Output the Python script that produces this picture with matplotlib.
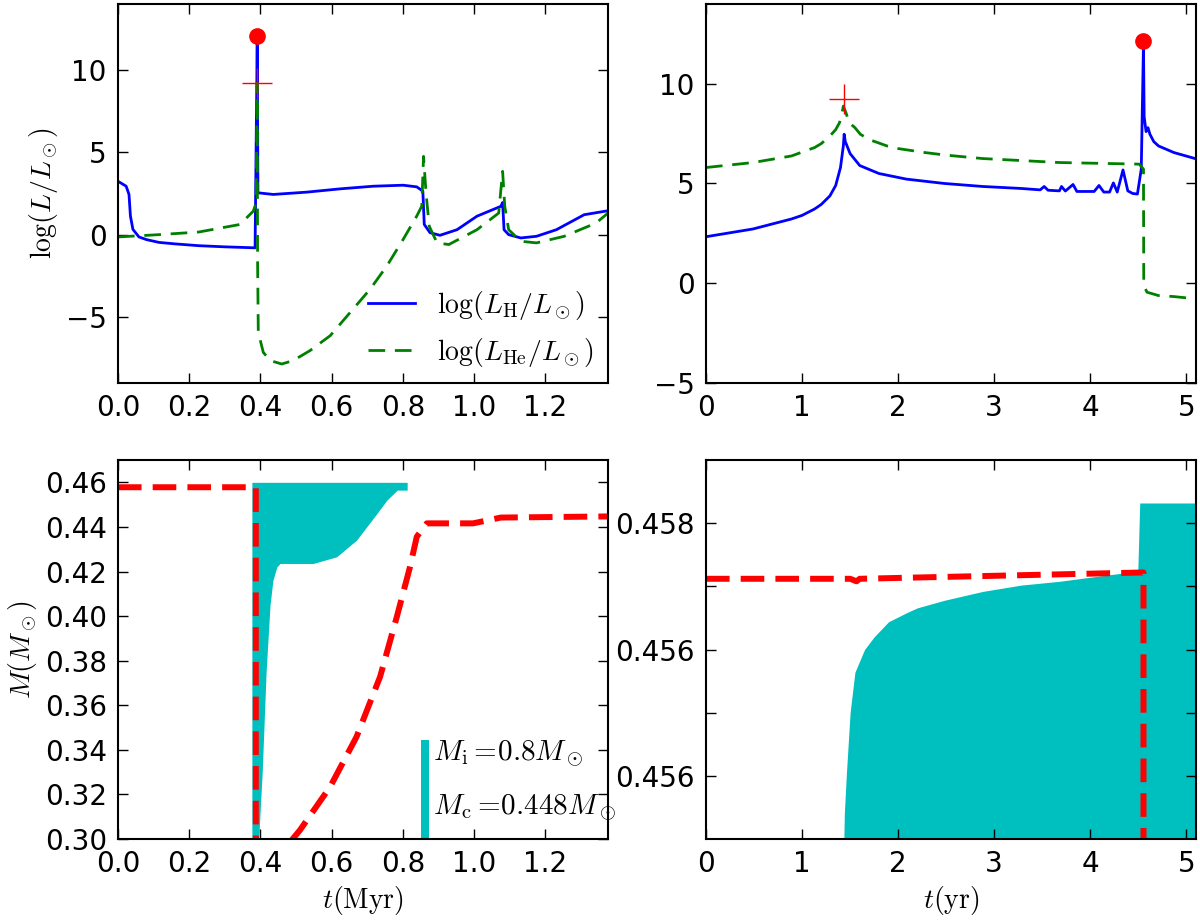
import matplotlib
matplotlib.use("Agg")
import matplotlib.pyplot as plt

plt.rcParams['mathtext.fontset'] = 'cm'
plt.rcParams['font.family'] = 'DejaVu Sans'
plt.rcParams['lines.scale_dashes'] = False

############## Data ##############

# top left: luminosities over the whole run (Myr)
tl_t_H = [0.0, 0.023, 0.031, 0.035, 0.042, 0.059, 0.08, 0.115, 0.16, 0.227, 0.30, 0.343,
          0.385, 0.391, 0.393, 0.436, 0.530, 0.624, 0.717, 0.801, 0.839, 0.856, 0.860,
          0.876, 0.904, 0.952, 1.008, 1.075, 1.080, 1.084, 1.097, 1.131, 1.175, 1.231,
          1.309, 1.384]
tl_L_H = [3.24, 2.94, 2.44, 1.13, 0.32, -0.14, -0.30, -0.47, -0.56, -0.67, -0.74, -0.77,
          -0.80, 11.8, 2.54, 2.44, 2.58, 2.78, 2.94, 3.0, 2.9, 2.64, 0.62,
          0.12, -0.04, 0.3, 1.12, 1.72, 1.95, 0.3, 0.0, -0.2, -0.1, 0.3,
          1.21, 1.48]
tl_t_He = [0.0, 0.115, 0.227, 0.343, 0.380, 0.388, 0.391, 0.392, 0.394, 0.408, 0.427,
           0.460, 0.492, 0.539, 0.596, 0.652, 0.708, 0.755, 0.801, 0.839, 0.853, 0.858,
           0.865, 0.874, 0.896, 0.929, 1.008, 1.069, 1.080, 1.086, 1.097, 1.131, 1.175,
           1.253, 1.342, 1.376, 1.384]
tl_L_He = [-0.14, 0.0, 0.16, 0.62, 1.43, 1.93, 9.2, -1.49, -5.93, -7.14, -7.64,
           -7.85, -7.64, -7.04, -6.13, -4.72, -3.31, -1.9, -0.28, 1.13, 1.73, 4.75,
           2.52, 0.51, -0.5, -0.6, 0.3, 1.31, 3.84, 1.72, 0.3, -0.4, -0.5,
           -0.1, 0.7, 1.31, 2.9]
tl_peak_H = (0.391, 12.08)
tl_peak_He = (0.391, 9.23)

# top right: zoom on the flash (yr)
tr_t_H = [0.0, 0.49, 0.89, 1.0, 1.13, 1.20, 1.29, 1.35, 1.40, 1.43, 1.438, 1.45, 1.50,
          1.60, 1.80, 2.084, 2.482, 2.880, 3.28, 3.478, 3.52, 3.56, 3.678, 3.70, 3.74,
          3.82, 3.86, 4.04, 4.09, 4.14, 4.20, 4.24, 4.28, 4.34, 4.39, 4.44, 4.49, 4.53,
          4.553, 4.56, 4.58, 4.60, 4.62, 4.66, 4.71, 4.87, 5.09]
tr_L_H = [2.33, 2.72, 3.22, 3.40, 3.72, 3.95, 4.38, 4.9, 5.8, 6.9, 7.47, 7.1, 6.5,
          5.9, 5.5, 5.22, 5.0, 4.85, 4.75, 4.68, 4.85, 4.66, 4.63, 4.85, 4.62,
          4.95, 4.6, 4.6, 4.9, 4.57, 4.57, 5.03, 4.57, 5.68, 4.63, 4.5, 4.47, 5.72,
          12.0, 8.35, 7.6, 7.8, 7.47, 7.1, 6.88, 6.55, 6.25]
tr_t_He = [0.0, 0.49, 0.89, 1.13, 1.20, 1.29, 1.35, 1.39, 1.41, 1.43, 1.46, 1.49,
           1.55, 1.606, 1.70, 1.885, 2.0, 2.28, 2.5, 2.88, 3.68, 4.51, 4.553, 4.556,
           4.59, 4.71, 4.87, 5.09]
tr_L_He = [5.8, 6.05, 6.38, 6.8, 7.0, 7.38, 7.7, 8.05, 8.4, 8.88, 8.5, 8.05,
           7.8, 7.47, 7.2, 6.88, 6.75, 6.55, 6.42, 6.25, 6.05, 5.97, 5.72, -0.12,
           -0.45, -0.62, -0.67, -0.78]
tr_peak_H = (4.553, 12.13)
tr_peak_He = (1.438, 9.25)

# bottom left: convective zone and core mass (Myr)
bl_conv_t = [0.376, 0.395, 0.405, 0.416, 0.427, 0.435, 0.446, 0.455, 0.548, 0.614,
             0.670, 0.727, 0.755, 0.784, 0.812]
bl_conv_lo = [0.30, 0.30, 0.33, 0.375, 0.405, 0.416, 0.422, 0.4236, 0.4236, 0.4266,
              0.4341, 0.446, 0.452, 0.4565, 0.4565]
bl_conv_hi = [0.46] * len(bl_conv_t)
bl_conv2_t = [0.852, 0.874]
bl_conv2_lo = [0.30, 0.30]
bl_conv2_hi = [0.3444, 0.3444]
bl_core_t = [0.0, 0.387, 0.387, 0.511, 0.596, 0.670, 0.736, 0.783, 0.820, 0.839, 0.867,
             0.997, 1.075, 1.376]
bl_core_m = [0.4578, 0.4578, 0.28, 0.304, 0.3235, 0.3459, 0.3728, 0.3997, 0.4221, 0.4356,
             0.4416, 0.4416, 0.4442, 0.4447]

# bottom right: zoom (yr)
br_conv_t = [1.435, 1.44, 1.46, 1.50, 1.55, 1.65, 1.75, 1.90, 2.084, 2.2, 2.482, 2.880,
             3.280, 3.678, 4.076, 4.494, 4.514, 5.1]
br_conv_hi = [0.4550, 0.4552, 0.4555, 0.4560, 0.45632, 0.4565, 0.4566, 0.45672,
              0.45679, 0.45683, 0.45689, 0.45696, 0.45701, 0.45704, 0.45708, 0.45712,
              0.45766, 0.45766]
br_core_t = [0.0, 1.50, 1.567, 1.60, 4.553, 4.553]
br_core_m = [0.45706, 0.45706, 0.45704, 0.45706, 0.45711, 0.4545]
br_yticks = [0.4575, 0.4570, 0.4565, 0.4560, 0.4555]
br_yticklabels = ['0.458', '', '0.456', '', '0.456']

############## Figure ##############

fig = plt.figure(figsize=(12, 9.21), dpi=100)
ax1 = fig.add_axes([0.0983, 0.5842, 0.4084, 0.4115])
ax2 = fig.add_axes([0.5883, 0.5842, 0.4084, 0.4115])
ax3 = fig.add_axes([0.0983, 0.0890, 0.4084, 0.4115])
ax4 = fig.add_axes([0.5883, 0.0890, 0.4084, 0.4115])

for ax in [ax1, ax2, ax3, ax4]:
    ax.tick_params(direction='in', top=True, right=True, length=7, width=1,
                   labelsize=20, pad=8)
    for s in ax.spines.values():
        s.set_linewidth(1.5)

# top left
ax1.plot(tl_t_H, tl_L_H, color='b', lw=2, label=r'$\log(L_{\rm H}/L_\odot)$')
ax1.plot(tl_t_He, tl_L_He, color='g', lw=2, ls='--', dashes=(12, 7),
         label=r'$\log(L_{\rm He}/L_\odot)$')
ax1.plot(*tl_peak_H, 'o', color='r', ms=11, mec='r')
ax1.plot(*tl_peak_He, '+', color='r', ms=21, mew=1)
ax1.set_xlim(0, 1.376)
ax1.set_ylim(-9, 14)
ax1.set_xticks([0.0, 0.2, 0.4, 0.6, 0.8, 1.0, 1.2])
ax1.set_yticks([-5, 0, 5, 10])
ax1.set_ylabel(r'$\log(L/L_\odot)$', fontsize=20)
ax1.legend(loc='lower right', frameon=False, fontsize=20, handlelength=1.7,
           borderaxespad=0.1, labelspacing=0.5)

# top right
ax2.plot(tr_t_H, tr_L_H, color='b', lw=2)
ax2.plot(tr_t_He, tr_L_He, color='g', lw=2, ls='--', dashes=(12, 7))
ax2.plot(*tr_peak_H, 'o', color='r', ms=11, mec='r')
ax2.plot(*tr_peak_He, '+', color='r', ms=21, mew=1)
ax2.set_xlim(0, 5.1)
ax2.set_ylim(-5, 14)
ax2.set_xticks([0, 1, 2, 3, 4, 5])
ax2.set_yticks([-5, 0, 5, 10])

# bottom left
ax3.fill_between(bl_conv_t, bl_conv_lo, bl_conv_hi, color='c', lw=0)
ax3.fill_between(bl_conv2_t, bl_conv2_lo, bl_conv2_hi, color='c', lw=0)
ax3.plot(bl_core_t, bl_core_m, color='r', lw=4.3, ls='--', dashes=(17, 8))
ax3.set_xlim(0, 1.376)
ax3.set_ylim(0.30, 0.47)
ax3.set_xticks([0.0, 0.2, 0.4, 0.6, 0.8, 1.0, 1.2])
ax3.set_yticks([0.30, 0.32, 0.34, 0.36, 0.38, 0.40, 0.42, 0.44, 0.46])
ax3.set_yticklabels(['0.30', '0.32', '0.34', '0.36', '0.38', '0.40', '0.42', '0.44', '0.46'])
ax3.set_xlabel(r'$t(\mathrm{Myr})$', fontsize=20)
ax3.set_ylabel(r'$M(M_\odot)$', fontsize=20)
ax3.text(0.643, 0.222, r'$M_{\rm i}=\!0.8M_\odot$', transform=ax3.transAxes,
         fontsize=21, va='center', ha='left')
ax3.text(0.643, 0.082, r'$M_{\rm c}=\!0.448M_\odot$', transform=ax3.transAxes,
         fontsize=21, va='center', ha='left')

# bottom right
ax4.fill_between(br_conv_t, 0.4540, br_conv_hi, color='c', lw=0)
ax4.plot(br_core_t, br_core_m, color='r', lw=4.3, ls='--', dashes=(17, 8))
ax4.set_xlim(0, 5.1)
ax4.set_ylim(0.4550, 0.4580)
ax4.set_xticks([0, 1, 2, 3, 4, 5])
ax4.set_yticks(br_yticks)
ax4.set_yticklabels(br_yticklabels)
ax4.set_xlabel(r'$t(\mathrm{yr})$', fontsize=20)

fig.savefig('out.png', dpi=100)
